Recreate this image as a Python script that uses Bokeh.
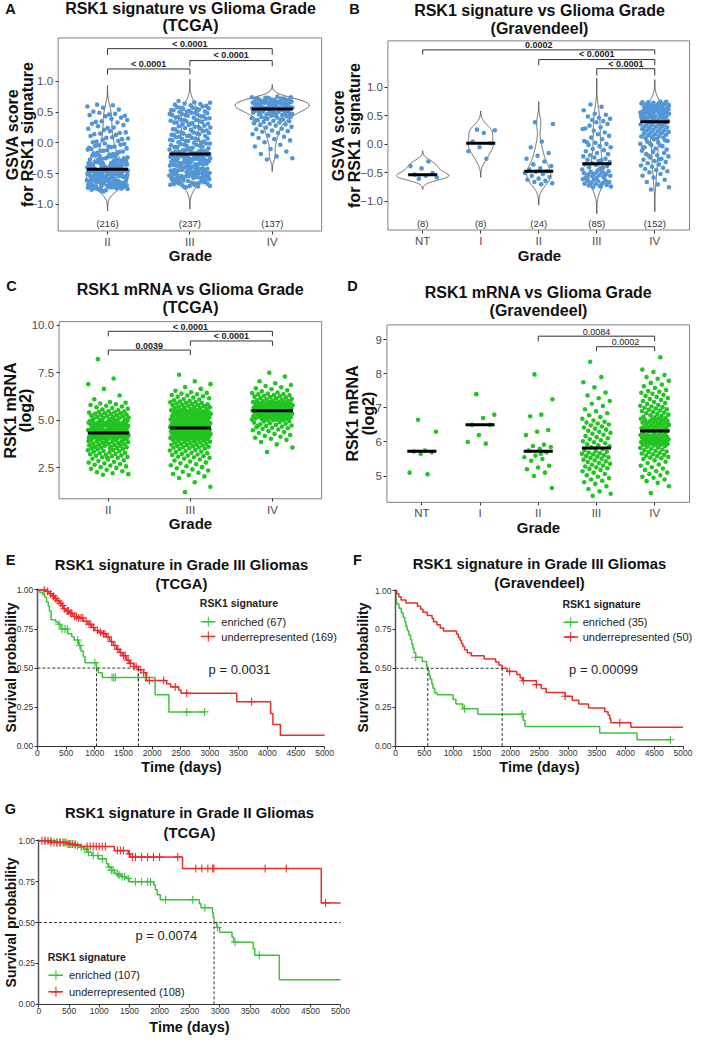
import math
import numpy as np
from bokeh.plotting import figure
from bokeh.models import Range1d, Label, FixedTicker
from bokeh.layouts import column, row
from bokeh.embed import file_html
from bokeh.resources import INLINE
from bokeh.core.properties import value

FONT = "Liberation Sans"

# ------------------------------------------------------------------ data
grades_tcga = ["II", "III", "IV"]
grades_grav = ["NT", "I", "II", "III", "IV"]

# GSVA score (x100), TCGA
gsva_tcga_II = [-78,-75,-72,-71,-74,-77,-70,-73,-76,-71,-72,-74,-70,-79,-73,-71,-75,-72,-70,-76,-74,-71,
 -69,-65,-62,-68,-61,-66,-64,-60,-67,-63,-69,-62,-65,-61,-68,-64,-66,-60,-63,-67,-65,-62,-69,-61,-64,-66,-68,-63,-60,-65,
 -59,-55,-52,-58,-51,-56,-54,-50,-57,-53,-59,-52,-55,-51,-58,-54,-56,-50,-53,-57,-55,-52,-59,-51,-54,-56,-58,-53,-50,-55,
 -49,-47,-45,-44,-48,-46,-43,-49,-45,-47,-44,-48,-46,-43,-49,-47,-45,-44,-48,-46,-43,-47,-45,-49,-44,-46,
 -42,-40,-38,-35,-33,-31,-41,-39,-36,-34,-32,-30,-42,-37,-35,-33,-40,-38,-31,-36,-41,-34,-39,-32,-30,-37,-42,-35,-38,-33,
 -29,-27,-25,-23,-21,-28,-26,-24,-22,-20,-29,-25,-27,-23,-21,-26,
 -19,-17,-15,-13,-11,-18,-16,-14,-12,-10,-17,-13,
 -9,-7,-5,-3,-1,-8,-6,-4,-2,-6,
 1,3,5,7,9,2,6,8, 11,13,15,17,19,14,16, 21,23,25,27,29,24, 31,33,35,37,39,34,
 41,43,45,47,49,44,46, 51,54,57,59,61,62]
gsva_tcga_III = [-72,-70,-68,-66,-64,-62,-61,-71,-69,-67,-65,-63,-60,-72,-68,-66,-64,-62,-70,-67,-65,-61,
 -59,-57,-55,-53,-51,-58,-56,-54,-52,-50,-59,-57,-55,-53,-51,-58,-56,-54,-52,-50,-57,-55,-53,-51,
 -49,-47,-45,-43,-41,-48,-46,-44,-42,-40,-49,-47,-45,-43,-41,-48,-46,-44,-42,-40,-46,-43,
 -39,-37,-35,-33,-31,-38,-36,-34,-32,-30,-39,-37,-35,-33,-31,-38,-36,-34,-32,-30,
 -29,-27,-25,-23,-21,-19,-28,-26,-24,-22,-20,-18,-29,-27,-25,-23,-21,-19,-28,-26,-24,-22,-20,-18,-27,-25,-23,-21,-19,-26,
 -17,-16,-15,-14,-13,-12,-11,-17,-15,-13,-11,-16,-14,-12,
 -9,-8,-7,-6,-5,-4,-3,-2,-1,-9,-7,-5,-3,-1,
 0,1,2,3,4,5,6,7,8,9,1,3,5,7,
 10,11,12,13,14,15,16,17,18,19,11,13,15,17,
 20,21,22,23,24,25,26,27,28,29,22,26,
 30,31,32,33,34,35,36,37,38,39,31,33,35,37,
 40,41,42,43,44,45,46,47,48,49,41,43,45,47,49,
 50,51,52,53,54,55,56,57,58,59,51,53,55,57,
 60,61,62,63,64,65,66,68]
gsva_tcga_IV = [-27,-25,-22,-18,-14,-10,-6,-3,
 1,4,6,8,10,12,14,16,18,19,
 20,22,23,25,26,28,29,30,31,32,33,34,
 35,36,37,38,39,40,41,42,43,44,36,38,40,42,
 45,46,47,48,49,50,51,52,53,54,45,46,47,48,49,50,51,52,53,54,47,49,51,53,
 55,56,57,58,59,60,61,55,56,57,58,59,60,61,55,56,57,58,59,60,61,56,57,58,59,60,
 62,63,64,65,66,67,62,63,64,65,66,67,62,63,64,65,66,67,62,63,64,65,66,67,
 68,69,70,71,72,73,74,75,68,69,70,71,72,73,74,69,70,71,72]

# GSVA score (x100), Gravendeel
gsva_grav_NT = [-60,-58,-55,-53,-50,-42,-38,-30]
gsva_grav_I = [26,25,20,5,2,-5,-12,-25]
gsva_grav_II = [39,36,5,-5,-15,-20,-25,-30,-35,-38,-42,-44,-47,-48,-50,-52,-55,-57,-60,-62,-64,-66,-68,-70]
gsva_grav_III = [-75,-74,-73,-72,-71,-70,-69,-68,-67,-66,-65,-64,-63,-62,-61,-74,-70,-66,
 -59,-58,-57,-56,-55,-54,-53,-52,-51,-50,-49,-48,-47,-46,-58,-55,-52,
 -44,-42,-40,-38,-36,-35,-41,
 -33,-31,-29,-27,-25,-23,-21,-28,
 -19,-17,-15,-12,-10,-8,-5,-3,-1,
 1,3,6,9,12,15,18,4,
 21,24,27,30,33,36,39,28,
 41,43,45,47,49,52,54,
 60,66,70]
gsva_grav_IV = [-79,-75,-70,-66,-62,-58,-55,-52,
 -49,-47,-45,-43,-41,-39,-37,-35,-33,-31,
 -29,-27,-25,-23,-21,-19,-17,-15,-13,-11,-26,-20,
 -9,-7,-5,-3,-1,1,3,5,7,9,-6,-2,2,6,
 10,11,12,13,14,15,16,17,18,19,20,21,22,23,24,
 25,26,27,28,29,30,31,32,33,34,35,36,37,38,39,27,33,
 40,41,42,43,44,45,46,47,48,49,50,51,52,53,54,41,43,45,47,49,51,53,40,42,44,46,48,50,
 55,56,57,58,59,60,61,62,63,64,55,56,57,58,59,60,61,62,63,64,56,58,60,62,64,57,
 65,66,67,68,69,70,71,72,73,74,75,65,66,67,68,69,70,71,72,73,74,75]

# RSK1 mRNA log2 (x100), TCGA
mrna_tcga_II = [212,215,220,225,230,238,243,248,
 252,256,260,264,268,272,276,280,284,288,292,296,
 301,304,306,309,312,314,317,320,322,325,328,330,333,336,338,341,343,346,348,302,
 351,353,355,357,359,361,363,365,367,369,371,373,375,377,379,381,383,385,387,389,391,393,395,397,399,352,360,370,380,390,
 400,401,402,403,404,405,406,407,408,409,410,411,412,413,414,415,416,417,418,419,420,421,422,423,424,425,426,427,428,429,430,431,403,409,415,421,427,402,
 432,433,434,435,436,437,438,439,440,441,442,443,444,445,446,447,448,449,450,451,452,453,454,455,456,457,458,459,436,448,
 460,461,462,464,465,466,468,469,470,472,473,474,476,477,478,480,481,482,484,485,486,488,489,490,492,493,494,496,497,498,463,471,483,495,
 500,502,504,506,508,510,512,514,516,518,520,522,524,526,528,530,532,534,536,538,540,542,544,546,548,505,
 552,556,560,564,568,572,576,580,584,588,592,596,
 610,630,665,690,720,822]
mrna_tcga_III = [120,148,172,195,
 203,210,216,222,228,234,240,246,
 252,257,262,267,272,277,282,287,292,297,
 301,304,307,310,313,316,319,322,325,328,331,334,337,340,343,347,
 350,352,354,356,358,360,362,364,366,368,370,372,374,376,378,380,382,384,386,388,390,392,394,396,398,
 400,401,402,403,404,405,406,407,408,409,410,411,412,413,414,415,416,417,418,419,420,421,422,423,424,425,426,427,428,429,
 430,431,432,433,434,435,436,437,438,439,440,441,442,443,444,445,446,447,448,449,450,452,454,456,457,
 458,459,460,461,462,463,464,465,466,467,468,469,470,471,472,473,474,475,476,477,478,479,480,481,482,483,484,485,486,487,488,489,490,492,494,496,498,499,
 500,501,503,504,506,507,509,510,512,513,515,516,518,519,521,522,524,525,527,528,530,531,533,534,536,537,539,540,542,543,545,546,548,549,547,
 550,552,554,556,558,560,562,564,566,568,570,572,574,576,578,580,582,584,586,588,590,592,594,596,598,575,
 602,605,609,612,616,619,623,626,630,633,637,640,644,647,
 655,665,675,690,705,740]
mrna_tcga_IV = [332,355,372,385,396,
 402,407,412,417,422,427,432,437,442,447,
 451,454,457,460,463,466,469,472,475,478,481,484,487,490,493,496,499,470,
 500,501,503,504,506,507,509,510,512,513,515,516,518,519,521,522,524,525,527,528,530,531,533,534,536,537,539,540,542,543,545,546,548,549,538,
 550,551,552,554,555,556,558,559,560,562,563,564,566,567,568,570,571,572,574,575,576,578,579,580,582,583,584,586,587,588,590,591,592,594,595,596,598,599,
 601,603,605,608,610,612,615,617,619,622,624,626,629,631,633,636,638,640,643,646,
 652,658,663,668,674,680,686,695,
 705,730,750]

# RSK1 mRNA log2 (x100), Gravendeel
mrna_grav_NT = [665,630,575,572,570,565,510,505]
mrna_grav_I = [740,680,670,650,650,620,600,595]
mrna_grav_II = [798,725,680,675,635,630,620,592,588,585,580,575,570,560,555,550,545,530,525,520,510,500,465,565]
mrna_grav_III = [442,448,455,462,470,477,
 482,486,490,494,498,502,506,510,514,518,
 521,523,526,528,531,533,536,538,541,543,546,548,
 551,553,555,557,559,561,563,565,567,569,571,573,576,579,
 584,587,590,593,596,599,602,605,608,611,614,617,
 621,624,627,630,633,636,639,642,645,648,651,654,657,659,
 663,668,673,678,684,690,696,
 705,712,720,728,736,745,
 760,775,790,835]
mrna_grav_IV = [450,470,480,485,490,495,498,
 502,506,510,514,518,522,526,530,534,538,542,546,
 550,552,554,556,558,560,562,564,566,568,570,572,574,576,578,580,582,584,586,588,
 590,591,592,593,594,595,596,597,598,599,600,601,602,603,604,605,606,607,608,609,610,611,612,613,614,615,616,617,618,619,620,621,622,624,626,628,630,
 632,633,634,636,637,638,640,641,642,644,645,646,648,649,650,652,653,654,656,657,658,660,661,662,664,665,666,668,669,635,
 670,672,674,676,678,680,682,684,686,688,690,692,694,696,698,700,702,704,706,708,
 711,714,717,720,723,726,729,732,735,738,741,744,747,749,
 752,758,763,768,773,779,785,790,796,
 805,812,848]

gsva_tcga_median = [-0.43, -0.18, 0.55]
gsva_grav_median = [-0.53, 0.02, -0.47, -0.34, 0.40]
mrna_tcga_median = [4.32, 4.58, 5.50]
mrna_grav_median = [5.73, 6.50, 5.73, 5.82, 6.32]

# Kaplan-Meier curves: step times (days) and survival after each step; censor times
E_enr_t = [0,40,90,130,160,190,210,240,320,360,410,530,600,640,720,760,800,830,1030,1060,1130,2050,2290,2910]
E_enr_s = [1.0,0.985,0.97,0.955,0.925,0.895,0.865,0.81,0.795,0.78,0.75,0.72,0.70,0.68,0.645,0.61,0.575,0.535,0.50,0.47,0.44,0.33,0.22,0.22]
E_enr_c = [380,430,480,520,700,740,1000,1300,1330,1360,1750,1880,2600,2910]
E_und_t = [0,150,200,260,300,340,380,420,460,500,560,620,700,800,880,950,1000,1060,1130,1200,1260,1320,1380,1430,1480,1550,1600,1680,1760,1850,1900,2250,2320,2460,2500,3470,4060,4100,4230,5000]
E_und_s = [1.0,0.99,0.975,0.96,0.945,0.93,0.915,0.90,0.88,0.865,0.85,0.83,0.82,0.80,0.78,0.76,0.74,0.73,0.72,0.70,0.67,0.645,0.62,0.60,0.58,0.55,0.53,0.51,0.49,0.47,0.42,0.40,0.38,0.36,0.34,0.285,0.21,0.14,0.07,0.07]
E_und_c = [120,180,230,280,320,360,400,440,470,520,540,580,600,650,680,720,760,790,850,900,930,980,1050,1100,1150,1180,1230,1290,1350,1400,1450,1500,1530,1580,1620,1680,1720,1800,1850,1950,2200,2400,2600,3730]

F_enr_t = [0,5,15,60,100,130,160,180,200,230,260,280,300,320,350,465,540,560,580,600,630,650,680,720,1000,1050,1170,1430,2220,2250,3550,4200,4780]
F_enr_s = [1.0,0.943,0.914,0.886,0.857,0.829,0.80,0.771,0.743,0.714,0.686,0.657,0.629,0.60,0.571,0.543,0.514,0.486,0.457,0.429,0.40,0.371,0.343,0.33,0.30,0.27,0.24,0.205,0.165,0.125,0.083,0.04,0.04]
F_enr_c = [350,1200,2200,4780]
F_und_t = [0,20,57,96,180,380,437,476,550,635,660,720,777,833,1060,1090,1120,1145,1170,1200,1247,1315,1542,1740,1797,1854,1939,2109,2166,2205,2450,2534,2619,2950,3073,3186,3356,3640,3696,3725,3745,4093,5000]
F_und_s = [1.0,0.98,0.96,0.94,0.92,0.90,0.88,0.86,0.84,0.82,0.80,0.78,0.76,0.74,0.72,0.70,0.68,0.66,0.64,0.62,0.60,0.58,0.56,0.54,0.52,0.50,0.48,0.46,0.44,0.42,0.395,0.37,0.345,0.32,0.295,0.27,0.245,0.22,0.20,0.175,0.15,0.12,0.12]
F_und_c = [1984,2222,2450,2950,3900]

G_enr_t = [0,280,470,605,660,740,795,875,984,1120,1146,1200,1254,1310,1362,1443,1497,1903,1930,1960,2011,2660,2687,2876,2890,2903,2950,2995,3200,3227,3551,3578,3984,5000]
G_enr_s = [1.0,0.99,0.98,0.97,0.96,0.95,0.93,0.91,0.89,0.86,0.84,0.82,0.80,0.79,0.78,0.77,0.75,0.73,0.70,0.67,0.64,0.615,0.59,0.56,0.53,0.50,0.47,0.44,0.41,0.38,0.34,0.30,0.15,0.15]
G_enr_c = [100,200,300,350,420,480,520,560,600,640,700,760,820,900,980,1050,1160,1200,1230,1300,1330,1380,1420,1480,1600,1700,1800,1850,2100,2550,2750,2960,3250,3650]
G_und_t = [0,200,480,560,700,1250,1480,1510,2380,4680,5000]
G_und_s = [1.0,0.99,0.98,0.975,0.965,0.94,0.92,0.90,0.83,0.62,0.62]
G_und_c = [50,100,150,200,250,300,350,400,450,500,550,600,800,850,900,950,1000,1050,1100,1300,1350,1400,1500,1550,1600,1700,1800,1900,2000,2300,2600,2700,2800,2880,2900,3750,4100,4750]

E_n = [67, 169]
F_n = [35, 50]
G_n = [107, 108]
E_p = "p = 0.0031"
F_p = "p = 0.00099"
G_p = "p = 0.0074"

# ------------------------------------------------------------------ layout helpers
SX = 693.0 / 709.0
SY = 1035.0 / 1051.0


def X(v):
    return int(round(v * SX))


def Y(v):
    return int(round(v * SY))


class Panel:
    """One figure whose frame covers the whole panel; the inner plot box is
    placed through extended ranges, and axes are pinned to it."""

    def __init__(self, box, frame, xr, yr):
        self.box = box
        self.xr = xr
        self.yr = yr
        px0, py0, px1, py1 = box
        fl, ft, fr, fb = frame
        kx = (xr[1] - xr[0]) / (fr - fl)
        ky = (yr[1] - yr[0]) / (fb - ft)
        full_x = (xr[0] - (fl - px0) * kx, xr[1] + (px1 - fr) * kx)
        full_y = (yr[0] - (py1 - fb) * ky, yr[1] + (ft - py0) * ky)
        p = figure(frame_width=X(px1) - X(px0), frame_height=Y(py1) - Y(py0),
                   min_border_left=0, min_border_right=0, min_border_top=0, min_border_bottom=0,
                   x_range=Range1d(*full_x), y_range=Range1d(*full_y),
                   output_backend="svg", toolbar_location=None, title=None)
        p.xgrid.visible = False
        p.ygrid.visible = False
        p.background_fill_color = "white"
        p.border_fill_color = "white"
        p.outline_line_color = None
        p.xaxis.fixed_location = yr[0]
        p.yaxis.fixed_location = xr[0]
        p.xaxis.bounds = xr
        p.yaxis.bounds = yr
        self.p = p

    def text(self, t, rx, ry, size, bold=False, angle=0.0, align="center", color="#111111"):
        px0, py0, px1, py1 = self.box
        self.p.add_layout(Label(x=X(rx) - X(px0), y=Y(py1) - Y(ry), x_units="screen", y_units="screen",
                                text=t, text_align=align, text_baseline="middle", angle=angle,
                                text_font=FONT, text_font_size=size,
                                text_font_style="bold" if bold else "normal", text_color=color))


def style_axes(P, xt, xl, yt, yl, size, boxed, ycolor="#4d4d4d", xcolor="#4d4d4d", standoff=2):
    p = P.p
    for ax, ticks, labs, col in ((p.xaxis[0], xt, xl, xcolor), (p.yaxis[0], yt, yl, ycolor)):
        ax.ticker = FixedTicker(ticks=ticks)
        ax.major_label_overrides = dict(zip(ticks, labs))
        ax.major_tick_in = 0
        ax.major_tick_out = 3
        ax.minor_tick_line_color = None
        ax.major_tick_line_color = "#333333"
        ax.major_label_text_font = FONT
        ax.major_label_text_font_size = size
        ax.major_label_text_color = col
        ax.major_label_standoff = standoff
        ax.axis_label = None
    if boxed:
        p.xaxis.axis_line_color = None
        p.yaxis.axis_line_color = None
        p.quad(left=[P.xr[0]], right=[P.xr[1]], bottom=[P.yr[0]], top=[P.yr[1]],
               fill_color=None, line_color="#808080", line_width=1)
    else:
        p.xaxis.axis_line_color = "#333333"
        p.yaxis.axis_line_color = "#555555"
        p.yaxis.axis_line_width = 1.5


def jitter(n, w):
    return np.array([((i * 0.6180339887 + 0.37) % 1.0) * 2.0 - 1.0 for i in range(n)]) * w


def kde(v):
    v = np.asarray(v, dtype=float)
    n = len(v)
    sd = v.std(ddof=1)
    q75, q25 = np.percentile(v, [75, 25])
    bw = 0.9 * min(sd, (q75 - q25) / 1.34) * n ** -0.2
    ys = np.linspace(v.min() - 3 * bw, v.max() + 3 * bw, 300)
    d = np.exp(-0.5 * ((ys[:, None] - v[None, :]) / bw) ** 2).sum(1) / (n * bw * math.sqrt(2 * math.pi))
    return ys, d


def dot_panel(P, groups, medians, color, violins, brackets, bracket_bold, count_y=None, mscale=100.0):
    p = P.p
    vals = [np.asarray(g, dtype=float) / mscale for g in groups]
    if violins:
        dens = [kde(v) for v in vals]
        dmax = max(d.max() for _, d in dens)
        for i, (ys, d) in enumerate(dens):
            c = i + 1
            hw = 0.45 * d / dmax
            xs = np.concatenate([c - hw, (c + hw)[::-1]])
            yy = np.concatenate([ys, ys[::-1]])
            p.patch(xs, yy, fill_color=None, line_color="#3a3a3a", line_width=0.8)
    for i, v in enumerate(vals):
        c = i + 1
        p.scatter(c + jitter(len(v), 0.25), v, size=4.6, fill_color=color, line_color=None)
    for i, m in enumerate(medians):
        c = i + 1
        p.segment(x0=[c - 0.25], y0=[m], x1=[c + 0.25], y1=[m], line_color="black", line_width=3)
    for (a, b, lab, ybar, ytick, ylab) in brackets:
        p.multi_line(xs=[[a, a, b, b]], ys=[[ytick, ybar, ybar, ytick]], line_color="#333333", line_width=1)
        p.text(x=[(a + b) / 2.0], y=[ylab], text=[lab], text_align="center", text_baseline="middle",
               text_font=value(FONT), text_font_size="9px",
               text_font_style="bold" if bracket_bold else "normal", text_color="#222222")
    if count_y is not None:
        p.text(x=[i + 1 for i in range(len(vals))], y=[count_y] * len(vals),
               text=["(%d)" % len(v) for v in vals], text_align="center", text_baseline="middle",
               text_font=value(FONT), text_font_size="9.5px", text_color="#333333")


def surv_at(t, s, c):
    idx = np.searchsorted(np.asarray(t), np.asarray(c), side="right") - 1
    return np.asarray(s)[idx]


def median_time(t, s):
    for ti, si in zip(t, s):
        if si <= 0.5:
            return ti
    return None


GREEN_KM = "#3cc43c"
RED_KM = "#ee2a2a"


def km_panel(P, curves, ns, ptext, p_pos, leg):
    p = P.p
    meds = []
    for (t, s, c), col in zip(curves, (GREEN_KM, RED_KM)):
        p.step(x=t, y=s, mode="after", line_color=col, line_width=1.5)
        p.scatter(c, surv_at(t, s, c), marker="cross", size=8, line_color=col, line_width=1.1)
        meds.append(median_time(t, s))
    known = [m for m in meds if m is not None]
    hx = P.xr[1] if len(known) < len(meds) else max(known)
    p.line([0, hx], [0.5, 0.5], line_color="#333333", line_dash="3 2", line_width=1)
    for m in known:
        p.line([m, m], [0, 0.5], line_color="#333333", line_dash="3 2", line_width=1)
    p.text(x=[p_pos[0]], y=[p_pos[1]], text=[ptext], text_align="left", text_baseline="middle",
           text_font=value(FONT), text_font_size="13px", text_color="#222222")
    tx, ty, cx, lx0, lx1, txx, y1, y2 = leg
    p.text(x=[tx], y=[ty], text=["RSK1 signature"], text_align="left", text_baseline="middle",
           text_font=value(FONT), text_font_size="10.5px", text_font_style="bold", text_color="#222222")
    for yy, col, lab in ((y1, GREEN_KM, "enriched (%d)" % ns[0]), (y2, RED_KM, "underrepresented (%d)" % ns[1])):
        p.line([lx0, lx1], [yy, yy], line_color=col, line_width=1.5)
        p.scatter([cx], [yy], marker="cross", size=10, line_color=col, line_width=1.1)
        p.text(x=[txx], y=[yy], text=[lab], text_align="left", text_baseline="middle",
               text_font=value(FONT), text_font_size="11px", text_color="#222222")


BLUE = "#5396d6"
GREEN = "#22c422"
ROT = math.pi / 2
TS = "16px"      # titles of A-D
LS = "16px"      # axis titles of A-D
KTS = "14.8px"   # titles of E-G

# ------------------------------------------------------------------ panel A
A = Panel((0, 0, 336, 268), (59, 38, 329, 234), (0.4, 3.6), (-1.432, 1.704))
style_axes(A, [1, 2, 3], grades_tcga, [-1, -0.5, 0, 0.5, 1], ["\u22121.0", "\u22120.5", "0.0", "0.5", "1.0"], "11.5px", True)
dot_panel(A, [gsva_tcga_II, gsva_tcga_III, gsva_tcga_IV], gsva_tcga_median, BLUE, True,
          [(1, 3, "< 0.0001", 1.53, 1.43, 1.60), (1, 2, "< 0.0001", 1.20, 1.11, 1.28), (2, 3, "< 0.0001", 1.336, 1.245, 1.42)],
          True, count_y=-1.315)
A.text("A", 10, 8, "14.5px", bold=True)
A.text("RSK1 signature vs Glioma Grade", 194, 8.5, TS, bold=True)
A.text("(TCGA)", 194, 25.5, TS, bold=True)
A.text("GSVA score", 12, 136, LS, bold=True, angle=ROT)
A.text("for RSK1 signature", 28, 136, LS, bold=True, angle=ROT)
A.text("Grade", 194, 259, "15px", bold=True)

# ------------------------------------------------------------------ panel B
B = Panel((336, 0, 709, 268), (396.7, 41, 705, 233), (0.4, 5.6), (-1.502, 1.818))
style_axes(B, [1, 2, 3, 4, 5], grades_grav, [-1, -0.5, 0, 0.5, 1], ["\u22121.0", "\u22120.5", "0.0", "0.5", "1.0"], "11.5px", True)
dot_panel(B, [gsva_grav_NT, gsva_grav_I, gsva_grav_II, gsva_grav_III, gsva_grav_IV], gsva_grav_median, BLUE, True,
          [(1, 5, "0.0002", 1.66, 1.58, 1.74), (3, 5, "< 0.0001", 1.49, 1.39, 1.59), (4, 5, "< 0.0001", 1.33, 1.21, 1.415)],
          True, count_y=-1.39)
B.text("B", 362, 8, "14.5px", bold=True)
B.text("RSK1 signature vs Glioma Grade", 551, 10, TS, bold=True)
B.text("(Gravendeel)", 551, 28, TS, bold=True)
B.text("GSVA score", 346, 137, LS, bold=True, angle=ROT)
B.text("for RSK1 signature", 362, 137, LS, bold=True, angle=ROT)
B.text("Grade", 551, 259.3, "15px", bold=True)

# ------------------------------------------------------------------ panel C
C = Panel((0, 268, 336, 545), (60, 326, 329, 505.7), (0.4, 3.6), (0.85, 10.2))
style_axes(C, [1, 2, 3], grades_tcga, [2.5, 5, 7.5, 10], ["2.5", "5.0", "7.5", "10.0"], "11.5px", True)
dot_panel(C, [mrna_tcga_II, mrna_tcga_III, mrna_tcga_IV], mrna_tcga_median, GREEN, False,
          [(1, 3, "< 0.0001", 9.69, 9.43, 9.91), (2, 3, "< 0.0001", 9.18, 8.92, 9.43), (1, 2, "0.0039", 8.70, 8.44, 8.94)],
          True)
C.text("C", 11, 289, "14.5px", bold=True)
C.text("RSK1 mRNA vs Glioma Grade", 194, 293.3, TS, bold=True)
C.text("(TCGA)", 194, 312, TS, bold=True)
C.text("RSK1 mRNA", 10, 416, LS, bold=True, angle=ROT)
C.text("(log2)", 26, 416, LS, bold=True, angle=ROT)
C.text("Grade", 194, 531, "15px", bold=True)

# ------------------------------------------------------------------ panel D
D = Panel((336, 268, 709, 545), (395.7, 329.3, 705, 509.3), (0.4, 5.6), (4.23, 9.43))
style_axes(D, [1, 2, 3, 4, 5], grades_grav, [5, 6, 7, 8, 9], ["5", "6", "7", "8", "9"], "11.5px", True)
dot_panel(D, [mrna_grav_NT, mrna_grav_I, mrna_grav_II, mrna_grav_III, mrna_grav_IV], mrna_grav_median, GREEN, False,
          [(3, 5, "0.0084", 9.10, 8.95, 9.23), (4, 5, "0.0002", 8.79, 8.66, 8.93)], False)
D.text("D", 360, 289, "14.5px", bold=True)
D.text("RSK1 mRNA vs Glioma Grade", 550, 296.7, TS, bold=True)
D.text("(Gravendeel)", 550, 315, TS, bold=True)
D.text("RSK1 mRNA", 360, 419, LS, bold=True, angle=ROT)
D.text("(log2)", 376, 419, LS, bold=True, angle=ROT)
D.text("Grade", 550, 535, "15px", bold=True)

# ------------------------------------------------------------------ KM panels
km_x = [0, 500, 1000, 1500, 2000, 2500, 3000, 3500, 4000, 4500, 5000]
km_xl = [str(v) for v in km_x]
km_y = [0, 0.25, 0.5, 0.75, 1]
km_yl = ["0.00", "0.25", "0.50", "0.75", "1.00"]

E = Panel((0, 545, 350, 788), (37.7, 596.7, 331.7, 757.3), (0, 5000), (0, 1.01))
style_axes(E, km_x, km_xl, km_y, km_yl, "8.5px", False, ycolor="#333333", xcolor="#333333", standoff=1)
km_panel(E, [(E_enr_t, E_enr_s, E_enr_c), (E_und_t, E_und_s, E_und_c)], E_n, E_p, (2981, 0.49),
         (2828, 0.914, 2976, 2845, 3100, 3202, 0.796, 0.702))
E.text("E", 10, 568, "14.5px", bold=True)
E.text("RSK1 signature in Grade III Gliomas", 184.7, 572.7, KTS, bold=True)
E.text("(TCGA)", 184.7, 591.7, KTS, bold=True)
E.text("Survival probability", 10, 677, "14px", bold=True, angle=ROT)
E.text("Time (days)", 184.7, 778, "14.5px", bold=True)

F = Panel((350, 545, 709, 788), (404.3, 597.4, 698.3, 757), (0, 5000), (0, 1.01))
style_axes(F, km_x, km_xl, km_y, km_yl, "8.5px", False, ycolor="#333333", xcolor="#333333", standoff=1)
km_panel(F, [(F_enr_t, F_enr_s, F_enr_c), (F_und_t, F_und_s, F_und_c)], F_n, F_p, (3017, 0.49),
         (2903, 0.914, 3045, 2920, 3175, 3255, 0.796, 0.702))
F.text("F", 365, 568, "14.5px", bold=True)
F.text("RSK1 signature in Grade III Gliomas", 551.3, 572, KTS, bold=True)
F.text("(Gravendeel)", 551.3, 591, KTS, bold=True)
F.text("Survival probability", 370, 677, "14px", bold=True, angle=ROT)
F.text("Time (days)", 551.3, 778, "14.5px", bold=True)

G = Panel((0, 788, 365, 1051), (39.3, 851.6, 347.7, 1019.3), (0, 5000), (0, 1.01))
style_axes(G, km_x, km_xl, km_y, km_yl, "8.5px", False, ycolor="#333333", xcolor="#333333", standoff=1)
km_panel(G, [(G_enr_t, G_enr_s, G_enr_c), (G_und_t, G_und_s, G_und_c)], G_n, G_p, (1600, 0.42),
         (146, 0.287, 282, 157, 400, 498, 0.177, 0.076))
G.text("G", 10, 820, "14.5px", bold=True)
G.text("RSK1 signature in Grade II Gliomas", 193.5, 825, KTS, bold=True)
G.text("(TCGA)", 193.5, 845, KTS, bold=True)
G.text("Survival probability", 10, 936, "14px", bold=True, angle=ROT)
G.text("Time (days)", 193.5, 1041.7, "14.5px", bold=True)

layout = column(row(A.p, B.p), row(C.p, D.p), row(E.p, F.p), G.p)
open("out.html", "w").write(file_html(layout, INLINE))
